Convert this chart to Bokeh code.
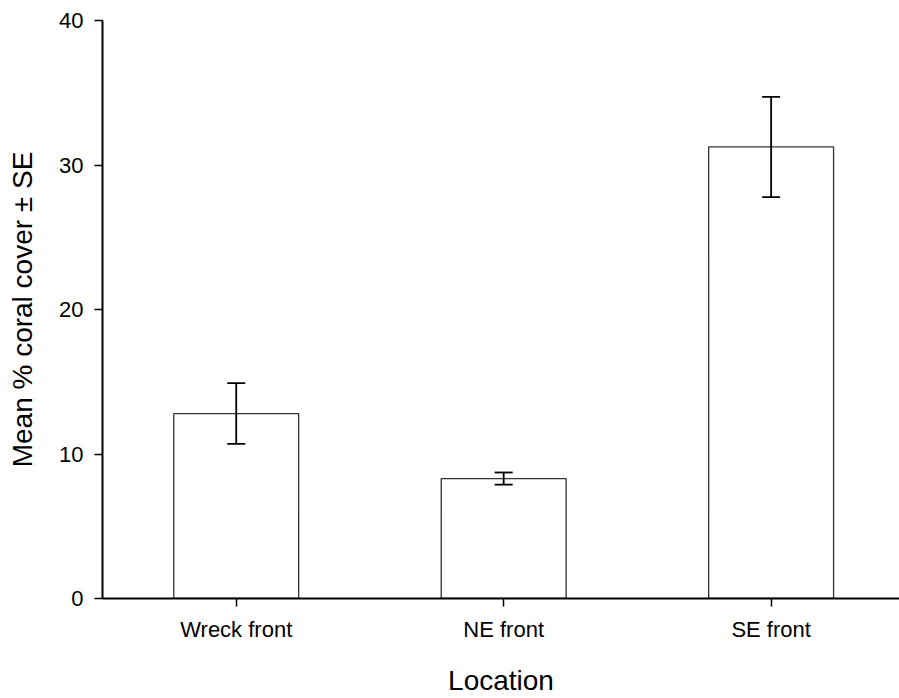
from bokeh.plotting import figure
from bokeh.models import ColumnDataSource, Range1d, FixedTicker, Whisker, TeeHead
from bokeh.embed import file_html
from bokeh.resources import INLINE

categories = ["Wreck front", "NE front", "SE front"]
mean_cover = [12.8, 8.3, 31.25]
se_cover = [2.1, 0.42, 3.47]
y_ticks = [0, 10, 20, 30, 40]

xs = list(range(len(categories)))
src = ColumnDataSource(dict(
    x=xs,
    top=mean_cover,
    upper=[m + s for m, s in zip(mean_cover, se_cover)],
    lower=[m - s for m, s in zip(mean_cover, se_cover)],
))

FONT = "Liberation Sans"

p = figure(width=899, height=698, output_backend="svg", toolbar_location=None,
           x_range=Range1d(-0.5, 2.48), y_range=Range1d(0, 40),
           min_border_left=102, min_border_right=0, min_border_top=20, min_border_bottom=100)
p.outline_line_color = None
p.xgrid.visible = False
p.ygrid.visible = False
p.background_fill_color = "white"
p.border_fill_color = "white"

p.vbar(x="x", top="top", bottom=0, width=0.467, source=src,
       fill_color="white", line_color="#333333", line_width=1.3)

w = Whisker(source=src, base="x", upper="upper", lower="lower",
            line_color="black", line_width=1.8, level="overlay",
            upper_head=TeeHead(size=18, line_color="black", line_width=1.8),
            lower_head=TeeHead(size=18, line_color="black", line_width=1.8))
p.add_layout(w)

for ax in (p.xaxis[0], p.yaxis[0]):
    ax.axis_line_color = "black"
    ax.axis_line_width = 2
    ax.major_tick_line_color = "black"
    ax.major_tick_line_width = 1.5
    ax.major_tick_out = 8
    ax.major_tick_in = 0
    ax.minor_tick_line_color = None
    ax.major_label_text_font = FONT
    ax.major_label_text_font_size = "22px"
    ax.major_label_text_color = "black"
    ax.axis_label_text_font = FONT
    ax.axis_label_text_font_size = "28px"
    ax.axis_label_text_font_style = "normal"
    ax.axis_label_text_color = "black"

p.xaxis.ticker = FixedTicker(ticks=xs)
p.xaxis.major_label_overrides = {i: c for i, c in zip(xs, categories)}
p.xaxis.axis_label = "Location"
p.xaxis.major_label_standoff = 10
p.xaxis.axis_label_standoff = 20

p.yaxis.ticker = FixedTicker(ticks=y_ticks)
p.yaxis.axis_label = "Mean % coral cover ± SE"
p.yaxis.major_label_standoff = 11
p.yaxis.axis_label_standoff = 18

open("out.html", "w").write(file_html(p, INLINE))
